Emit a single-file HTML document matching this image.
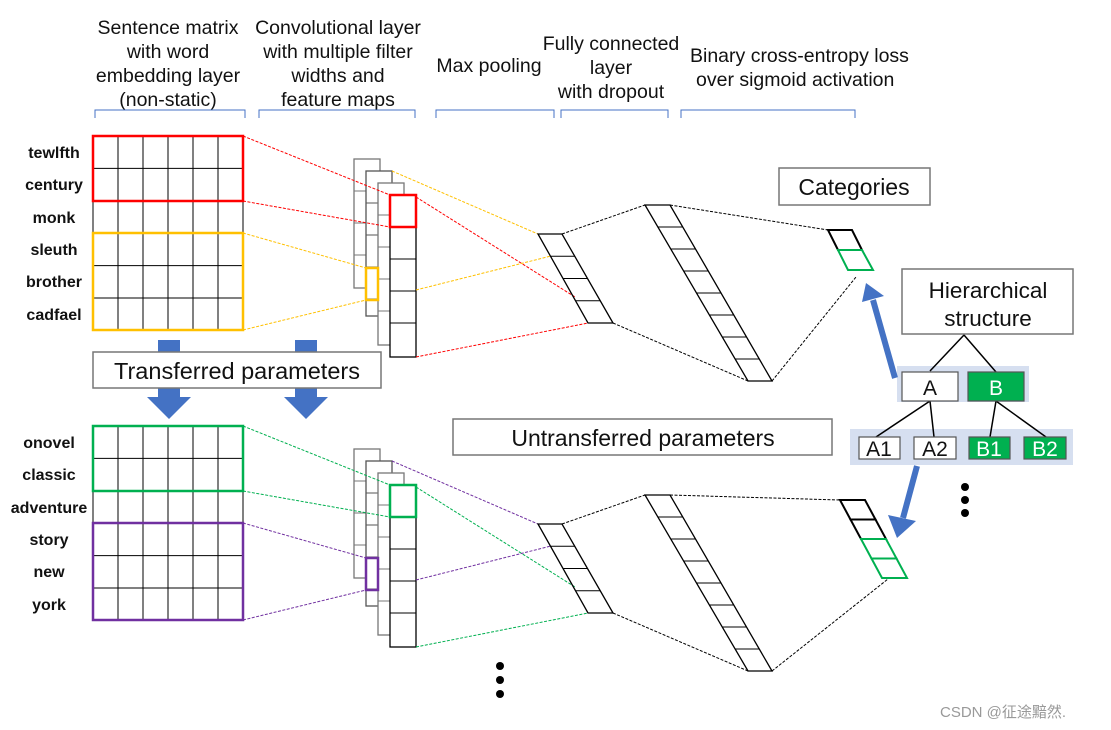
<!DOCTYPE html>
<html><head><meta charset="utf-8"><style>
html,body{margin:0;padding:0;background:#fff;}
svg{display:block;font-family:"Liberation Sans","Noto Sans CJK SC",sans-serif;}
</style></head><body>
<svg id="s" width="1111" height="730" viewBox="0 0 1111 730" xmlns="http://www.w3.org/2000/svg">
<g font-size="19.5" fill="#111" text-anchor="middle">
<text x="168" y="34">Sentence matrix</text><text x="168" y="58">with word</text><text x="168" y="82">embedding layer</text><text x="168" y="106">(non-static)</text>
<text x="338" y="34">Convolutional layer</text><text x="338" y="58">with multiple filter</text><text x="338" y="82">widths and</text><text x="338" y="106">feature maps</text>
<text x="489" y="72">Max pooling</text>
<text x="611" y="50">Fully connected</text><text x="611" y="74">layer</text><text x="611" y="98">with dropout</text>
<text x="690" y="62" text-anchor="start">Binary cross-entropy loss</text><text x="696" y="86" text-anchor="start">over sigmoid activation</text>
</g>
<g fill="none" stroke="#4472c4" stroke-width="1">
<path d="M95,118V110H245V118M259,118V110H415V118M436,118V110H554V118M561,118V110H668V118M681,118V110H855V118"/>
</g>
<g font-size="16" font-weight="bold" fill="#111" text-anchor="middle">
<text x="54" y="158">tewlfth</text><text x="54" y="190">century</text><text x="54" y="223">monk</text><text x="54" y="255">sleuth</text><text x="54" y="287">brother</text><text x="54" y="320">cadfael</text>
<text x="49" y="448">onovel</text><text x="49" y="480">classic</text><text x="49" y="513">adventure</text><text x="49" y="545">story</text><text x="49" y="577">new</text><text x="49" y="610">york</text>
</g>
<g id="dyn"></g>
<g fill="#4472c4">
<rect x="158" y="340" width="22" height="14"/><rect x="295" y="340" width="22" height="14"/>
<path d="M158,388H180V397H191L169,419L147,397H158Z"/>
<path d="M295,388H317V397H328L306,419L284,397H295Z"/>
</g>
<rect x="93" y="352" width="288" height="36" fill="#fff" stroke="#777" stroke-width="1.5"/>
<text x="237" y="379" font-size="23.5" text-anchor="middle" fill="#111">Transferred parameters</text>
<rect x="453" y="419" width="379" height="36" fill="#fff" stroke="#777" stroke-width="1.5"/>
<text x="643" y="446" font-size="23" text-anchor="middle" fill="#111">Untransferred parameters</text>
<rect x="779" y="168" width="151" height="37" fill="#fff" stroke="#777" stroke-width="1.5"/>
<text x="854" y="195" font-size="23" text-anchor="middle" fill="#111">Categories</text>
<rect x="902" y="269" width="171" height="65" fill="#fff" stroke="#777" stroke-width="1.5"/>
<text x="988" y="298" font-size="22.5" text-anchor="middle" fill="#111">Hierarchical</text>
<text x="988" y="326" font-size="22.5" text-anchor="middle" fill="#111">structure</text>
<rect x="897" y="366" width="132" height="36" fill="#d6dff0"/>
<rect x="850" y="429" width="223" height="36" fill="#d6dff0"/>
<g stroke="#000" stroke-width="1.5">
<path d="M964,335L930,371M964,335L996,372M930,401L876,437M930,401L934,437M996,401L990,437M996,401L1046,437"/>
</g>
<g stroke="#555" stroke-width="1.2">
<rect x="902" y="372" width="56" height="29" fill="#fff"/>
<rect x="968" y="372" width="56" height="29" fill="#00b050"/>
<rect x="859" y="437" width="41" height="22" fill="#fff"/>
<rect x="914" y="437" width="42" height="22" fill="#fff"/>
<rect x="969" y="437" width="41" height="22" fill="#00b050"/>
<rect x="1024" y="437" width="42" height="22" fill="#00b050"/>
</g>
<g font-size="21" text-anchor="middle">
<text x="930" y="395" fill="#111">A</text><text x="996" y="395" fill="#fff">B</text>
<text x="879" y="456" fill="#111">A1</text><text x="935" y="456" fill="#111">A2</text><text x="989" y="456" fill="#fff">B1</text><text x="1045" y="456" fill="#fff">B2</text>
</g>
<g stroke="#4472c4" stroke-width="6" fill="#4472c4">
<line x1="895" y1="378" x2="873" y2="300"/>
<path d="M866,283L884,296L862,302Z" stroke="none"/>
<line x1="917" y1="466" x2="903" y2="518"/>
<path d="M897,538L888,515L916,521Z" stroke="none"/>
</g>
<g fill="#000">
<circle cx="965" cy="487" r="4"/><circle cx="965" cy="500" r="4"/><circle cx="965" cy="513" r="4"/>
<circle cx="500" cy="666" r="4"/><circle cx="500" cy="680" r="4"/><circle cx="500" cy="694" r="4"/>
</g>
<text x="940" y="717" font-size="15" fill="#999">CSDN @征途黯然.</text>
</svg>
<script>
var g=document.getElementById('dyn'),h='';
function L(x1,y1,x2,y2,c,d){h+='<line x1="'+x1+'" y1="'+y1+'" x2="'+x2+'" y2="'+y2+'" stroke="'+c+'" stroke-width="1" '+(d?'stroke-dasharray="3,1.5"':'')+'/>';}
function R(x,y,w,hh,c,sw){h+='<rect x="'+x+'" y="'+y+'" width="'+w+'" height="'+hh+'" fill="none" stroke="'+c+'" stroke-width="'+sw+'"/>';}
function half(o,c1,c2){
 var ys=[136,168.4,200.8,233.2,265.6,298,330.4];
 for(var i=0;i<7;i++)L(93,ys[i]+o,243,ys[i]+o,'#000',0);
 for(var j=0;j<7;j++)L(93+25*j,136+o,93+25*j,330+o,'#000',0);
 R(93,136+o,150,65,c1,2.5);R(93,233+o,150,97,c2,2.5);
 var st=[[354,159,288,'#777'],[366,171,316,'#555'],[378,183,345,'#777'],[390,195,357,'#000']];
 st.forEach(function(s){h+='<rect x="'+s[0]+'" y="'+(s[1]+o)+'" width="26" height="'+(s[2]-s[1])+'" fill="#fff" stroke="'+s[3]+'" stroke-width="1.3"/>';
  for(var y=s[1]+32;y<s[2]-4;y+=32)L(s[0],y+o,s[0]+26,y+o,s[3],0);});
 R(390,195+o,26,32,c1,2.5);R(366,268+o,12,32,c2,2.5);
 L(243,136+o,390,195+o,c1,1);L(243,201+o,390,227+o,c1,1);
 L(416,197+o,575,297+o,c1,1);L(416,357+o,588,323+o,c1,1);
 L(243,233+o,366,268+o,c2,1);L(243,330+o,366,300+o,c2,1);
 L(392,171+o,538,234+o,c2,1);L(416,290+o,551,256+o,c2,1);
 var px=538,py=234+o,bx=588,by=323+o;
 h+='<path d="M'+px+','+py+'H'+(px+24)+'L'+(bx+25)+','+by+'H'+bx+'Z" fill="none" stroke="#000" stroke-width="1.3"/>';
 for(var k=1;k<4;k++){var t=k/4;L(px+(bx-px)*t,py+(by-py)*t,px+24+(bx+1-px)*t,py+(by-py)*t,'#000',0);}
 var fx=645,fy=205+o,gx=748,gy=381+o;
 h+='<path d="M'+fx+','+fy+'H'+(fx+25)+'L'+(gx+24)+','+gy+'H'+gx+'Z" fill="none" stroke="#000" stroke-width="1.3"/>';
 for(var k=1;k<8;k++){var t=k/8;L(fx+(gx-fx)*t,fy+(gy-fy)*t,fx+25+(gx-1-fx)*t,fy+(gy-fy)*t,'#000',0);}
 L(562,234+o,645,205+o,'#000',1);L(613,323+o,748,381+o,'#000',1);
}
half(0,'#ff0000','#ffc000');
half(290,'#00b050','#7030a0');
L(670,205,828,230,'#000',1);L(772,381,856,277,'#000',1);
h+='<path d="M828,230H852L862,250H838Z" fill="none" stroke="#000" stroke-width="2"/>';
h+='<path d="M838,250H862L873,270H848Z" fill="none" stroke="#00b050" stroke-width="2"/>';
L(670,495,840,500,'#000',1);L(772,671,888,579,'#000',1);
var ox=840,oy=500,dx=10.5,dy=19.5;
for(var i=0;i<4;i++){var c=i<2?'#000':'#00b050';var x=ox+dx*i,y=oy+dy*i;
 h+='<path d="M'+x+','+y+'H'+(x+25)+'L'+(x+25+dx)+','+(y+dy)+'H'+(x+dx)+'Z" fill="none" stroke="'+c+'" stroke-width="2"/>';}
g.innerHTML=h;
</script>
</body></html>
